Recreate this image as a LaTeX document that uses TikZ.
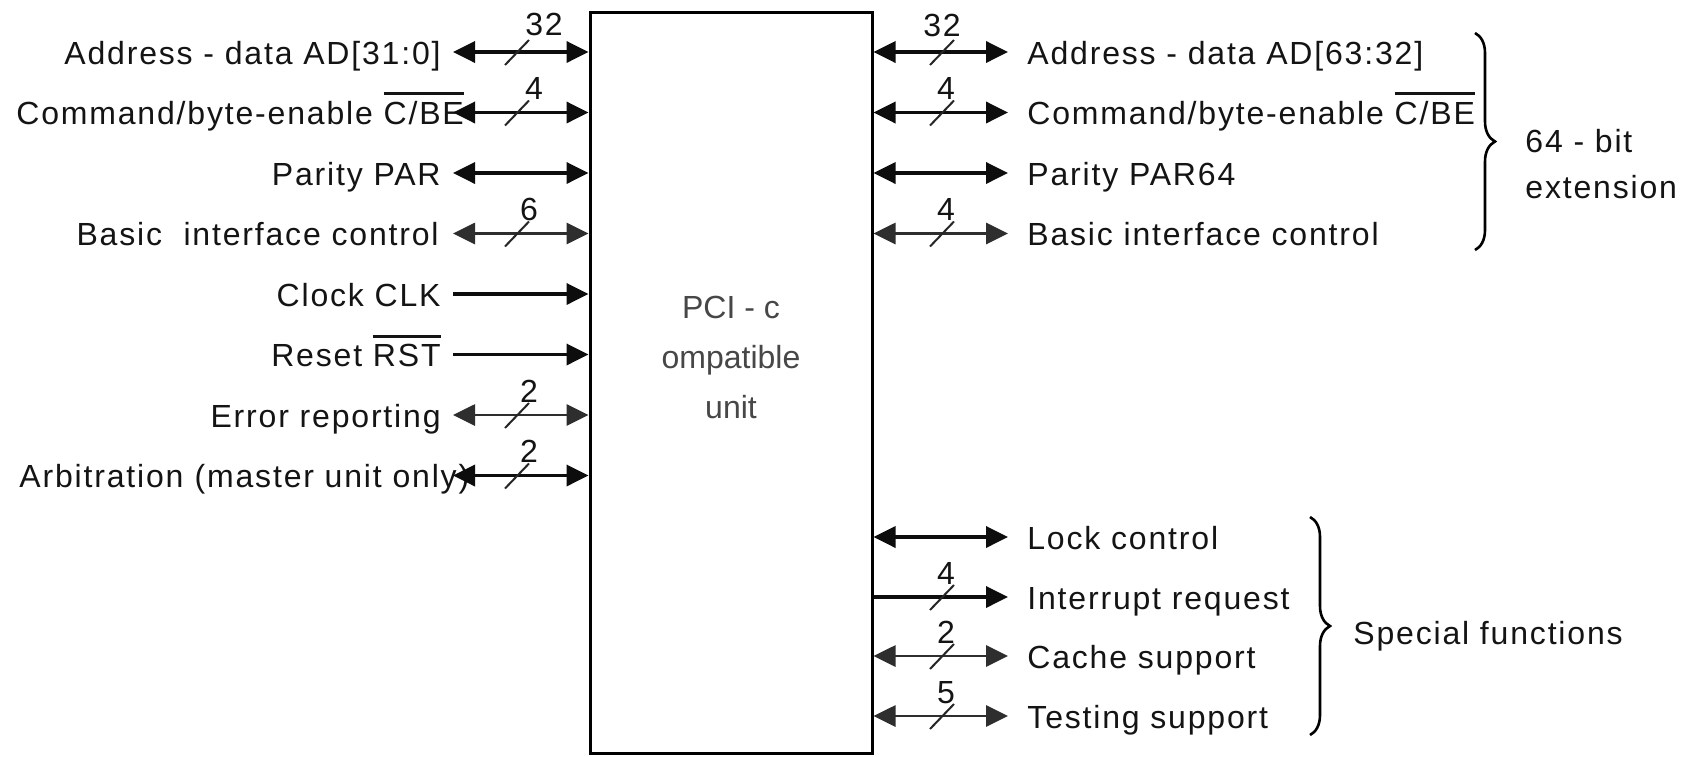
\documentclass[tikz,border=0pt]{standalone}
\usepackage{fontspec}
\setmainfont{Liberation Sans}
\newfontfamily\lblfont[LetterSpace=5.7]{Liberation Sans}
\usetikzlibrary{arrows.meta,decorations.pathreplacing}
\newcommand\ovbar[1]{\vbox{\hrule height 1.5pt\kern 3pt\hbox{#1}}}
\tikzset{
  lbl/.style={font=\lblfont\fontsize{16pt}{19pt}\selectfont, text=black!92, inner sep=0pt},
  lblE/.style={lbl, anchor=base east},
  lblW/.style={lbl, anchor=base west},
  num/.style={lbl, anchor=base},
  centertxt/.style={font=\fontsize{16pt}{19pt}\selectfont, text=black!72, inner sep=0pt, anchor=base},
  unitbox/.style={draw, line width=1.5pt, minimum width=141pt, minimum height=370.5pt, inner sep=0pt},
  sig/.style={line width=1.8pt, draw=black!95},
  thinsig/.style={line width=1.4pt, draw=black!82},
  both/.style={arrows={Triangle[length=11pt,width=10.5pt]-Triangle[length=11pt,width=10.5pt]}},
  into/.style={arrows={-Triangle[length=11pt,width=10.5pt]}},
  slashmark/.style={line width=1pt, draw=black!85},
  brc/.style={decorate, decoration={brace, amplitude=10pt}, line width=1.3pt},
}
\begin{document}
\begin{tikzpicture}[x=0.5pt, y=-0.5pt]
\useasboundingbox[fill=white] (0,0) rectangle (1686,756);

% central unit
\node[unitbox] (unit) at (731,382.5) {};
\node[centertxt] (c1) at (731,318) {PCI - c};
\node[centertxt] (c2) at (731,368) {ompatible};
\node[centertxt] (c3) at (731,418) {unit};

% left side coordinates (arrow free ends)
\coordinate (L1) at (453,52);
\coordinate (L2) at (453,112.5);
\coordinate (L3) at (453,173);
\coordinate (L4) at (453,233.5);
\coordinate (L5) at (453,294);
\coordinate (L6) at (453,354.5);
\coordinate (L7) at (453,415);
\coordinate (L8) at (453,475.5);

% left labels
\node[lblE] (tl1) at (441,64) {Address - data AD[31:0]};
\node[lblW] (tl2) at (16,124.5) {Command/byte-enable \ovbar{C/BE}};
\node[lblE] (tl3) at (441,185) {Parity PAR};
\node[lblE] (tl4) at (439,245.5) {Basic~~interface control};
\node[lblE] (tl5) at (441,306) {Clock CLK};
\node[lblE] (tl6) at (441,366.5) {Reset \ovbar{RST}};
\node[lblE] (tl7) at (441,427) {Error reporting};
\node[lblW] (tl8) at (19,487.5) {Arbitration\hspace{0.35em}(master unit only)};

% left connectors
\draw[sig,both] (L1) -- (L1 -| unit.west);
\draw[sig,both] (L2) -- (L2 -| unit.west);
\draw[sig,both] (L3) -- (L3 -| unit.west);
\draw[thinsig,both] (L4) -- (L4 -| unit.west);
\draw[sig,into] (L5) -- (L5 -| unit.west);
\draw[sig,into] (L6) -- (L6 -| unit.west);
\draw[thinsig,both] (L7) -- (L7 -| unit.west);
\draw[sig,both] (L8) -- (L8 -| unit.west);

% left bus widths
\foreach \r/\n/\x/\d in {52/32/544/17, 112.5/4/534/13, 233.5/6/529/13, 415/2/529/13, 475.5/2/529/13}{
  \draw[slashmark] (517,\r) ++(-12,13) -- ++(24,-25);
  \node[num] at (\x,\r-\d) {\n};
}

% right side coordinates
\coordinate (R1) at (1008,52);
\coordinate (R2) at (1008,112.5);
\coordinate (R3) at (1008,173);
\coordinate (R4) at (1008,233.5);
\coordinate (R5) at (1008,537);
\coordinate (R6) at (1008,597);
\coordinate (R7) at (1008,656);
\coordinate (R8) at (1008,716);

% right labels
\node[lblW] (tr1) at (1027,64) {Address - data AD[63:32]};
\node[lblW] (tr2) at (1027,124.5) {Command/byte-enable \ovbar{C/BE}};
\node[lblW] (tr3) at (1027,185) {Parity PAR64};
\node[lblW] (tr4) at (1027,245.5) {Basic interface control};
\node[lblW] (tr5) at (1027,549) {Lock control};
\node[lblW] (tr6) at (1027,609) {Interrupt request};
\node[lblW] (tr7) at (1027,668) {Cache support};
\node[lblW] (tr8) at (1027,728) {Testing support};

% right connectors
\draw[sig,both] (unit.east |- R1) -- (R1);
\draw[sig,both] (unit.east |- R2) -- (R2);
\draw[sig,both] (unit.east |- R3) -- (R3);
\draw[thinsig,both] (unit.east |- R4) -- (R4);
\draw[sig,both] (unit.east |- R5) -- (R5);
\draw[sig,into] (unit.east |- R6) -- (R6);
\draw[thinsig,both] (unit.east |- R7) -- (R7);
\draw[thinsig,both] (unit.east |- R8) -- (R8);

% right bus widths
\foreach \r/\n/\x/\d in {52/32/942/16, 112.5/4/946/13, 233.5/4/946/13, 597/4/946/13, 656/2/946/13, 716/5/946/13}{
  \draw[slashmark] (942,\r) ++(-12,13) -- ++(24,-25);
  \node[num] at (\x,\r-\d) {\n};
}

% braces
\coordinate (b1t) at (1475,33);
\coordinate (b1b) at (1475,250);
\draw[brc] (b1t) -- (b1b);
\node[lblW] (g1a) at (1525,152) {64 - bit};
\node[lblW] (g1b) at (1525,198) {extension};

\coordinate (b2t) at (1310,517);
\coordinate (b2b) at (1310,735);
\draw[brc] (b2t) -- (b2b);
\node[lblW] (g2) at (1353,644) {Special functions};
\end{tikzpicture}
\end{document}
